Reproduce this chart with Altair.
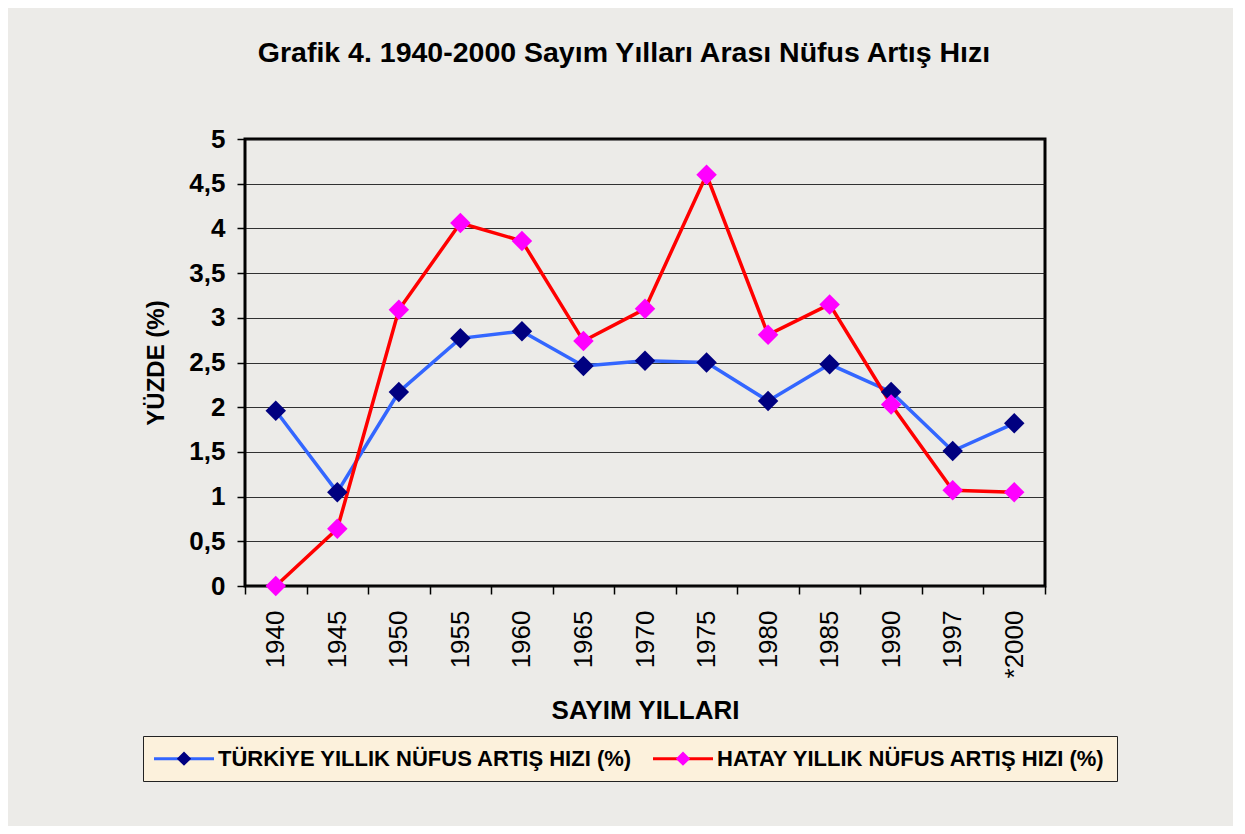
import altair as alt
import pandas as pd

years = ["1940", "1945", "1950", "1955", "1960", "1965", "1970", "1975",
         "1980", "1985", "1990", "1997", "*2000"]
turkiye = [1.96, 1.05, 2.17, 2.77, 2.85, 2.46, 2.52, 2.50, 2.07, 2.48, 2.17, 1.51, 1.82]
hatay = [0.00, 0.64, 3.09, 4.06, 3.86, 2.74, 3.10, 4.60, 2.81, 3.15, 2.03, 1.07, 1.05]
series_names = ["TÜRKİYE YILLIK NÜFUS ARTIŞ HIZI (%)", "HATAY YILLIK NÜFUS ARTIŞ HIZI (%)"]
line_colors = ["#3366FF", "#FF0000"]
marker_colors = ["#000080", "#FF00FF"]
y_ticks = [0, 0.5, 1, 1.5, 2, 2.5, 3, 3.5, 4, 4.5, 5]

rows = []
for name, vals in zip(series_names, [turkiye, hatay]):
    for yr, v in zip(years, vals):
        rows.append({"year": yr, "value": v, "series": name, "series_m": name})
df = pd.DataFrame(rows)

FONT = "Liberation Sans"

x_enc = alt.X(
    "year:O",
    sort=years,
    bandPosition=0.5,
    scale=alt.Scale(type="band", domain=years, paddingInner=0, paddingOuter=0),
    axis=alt.Axis(
        title="SAYIM YILLARI",
        labelAngle=-90,
        labelFontSize=26,
        labelFont=FONT,
        labelColor="#000",
        labelPadding=16,
        tickSize=8,
        tickColor="#000",
        tickWidth=1.5,
        tickBand="extent",
        domain=False,
        grid=False,
        titleFontSize=26,
        titleFont=FONT,
        titleFontWeight="bold",
        titleColor="#000",
        titlePadding=20,
    ),
)
y_enc = alt.Y(
    "value:Q",
    scale=alt.Scale(domain=[0, 5], nice=False, zero=True),
    axis=alt.Axis(
        title="YÜZDE (%)",
        values=y_ticks,
        labelExpr="replace(format(datum.value, '~g'), '.', ',')",
        labelFontSize=26,
        labelFont=FONT,
        labelFontWeight="bold",
        labelColor="#000",
        labelPadding=12,
        tickSize=8,
        tickColor="#000",
        tickWidth=1.5,
        domain=False,
        grid=True,
        gridColor="#111",
        gridWidth=1,
        gridOpacity=0.85,
        titleFontSize=24,
        titleFont=FONT,
        titleFontWeight="bold",
        titleColor="#000",
        titlePadding=20,
    ),
)

legend_common = dict(
    orient="none",
    legendX=-102,
    legendY=597,
    direction="horizontal",
    columns=2,
    title=None,
    labelFont=FONT,
    labelFontSize=22,
    labelFontWeight="bold",
    labelLimit=600,
    labelOffset=22.5,
    symbolOffset=18.5,
    columnPadding=14,
    padding=11,
    symbolSize=400,
    symbolStrokeWidth=3,
)

lines = alt.Chart(df).mark_line(strokeWidth=3.5).encode(
    x=x_enc,
    y=y_enc,
    stroke=alt.Stroke(
        "series:N",
        scale=alt.Scale(domain=series_names, range=line_colors),
        legend=alt.Legend(
            symbolType="M-3,0H3",
            fillColor="#FCF1DC",
            strokeColor="#222",
            labelColor="#000",
            zindex=1,
            **legend_common,
        ),
    ),
)

points = alt.Chart(df).mark_point(shape="diamond", filled=True, size=420, opacity=1).encode(
    x=x_enc,
    y=y_enc,
    fill=alt.Fill(
        "series_m:N",
        sort=series_names,
        scale=alt.Scale(range=marker_colors),
        legend=alt.Legend(
            symbolType="M-3,0H3M0,-0.72L0.72,0L0,0.72L-0.72,0Z",
            symbolStrokeColor="transparent",
            labelColor="transparent",
            zindex=2,
            **legend_common,
        ),
    ),
)

chart = (
    alt.layer(lines, points)
    .resolve_scale(x="shared", y="shared")
    .properties(
        width=800,
        height=447,
        autosize=alt.AutoSizeParams(type="none"),
        padding={"left": 237, "top": 131, "right": 188, "bottom": 240},
        background="#ECEBE8",
        title=alt.Title(
            "Grafik 4. 1940-2000 Sayım Yılları Arası Nüfus Artış Hızı",
            font=FONT,
            fontSize=28.5,
            fontWeight="bold",
            color="#000",
            anchor="middle",
            offset=59,
            dx=-21,
        ),
    )
    .configure_view(stroke="#000", strokeWidth=3)
)

chart.save("out.html", embed_options={"renderer": "svg", "actions": False})
